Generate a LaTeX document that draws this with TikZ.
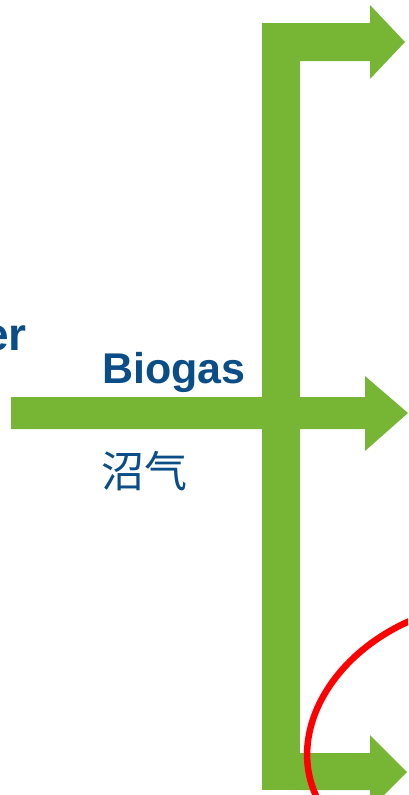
\documentclass[tikz,border=0pt]{standalone}
\usepackage{fontspec}
\setmainfont{Liberation Sans}
\newfontfamily\cjk{Noto Sans CJK SC}
\usepackage{tikz}
\usetikzlibrary{calc,positioning}

\definecolor{pipegreen}{RGB}{118,182,52}
\definecolor{labelblue}{RGB}{11,78,135}

\begin{document}
\begin{tikzpicture}
[x=1pt,y=-1pt]

    \tikzstyle{pipe}=[fill=pipegreen,draw=none]
    \tikzstyle{gaslabel}=[text=labelblue,inner sep=0pt,font=\bfseries\fontsize{43}{48}\selectfont]

    \useasboundingbox (0,0) rectangle (408,795);
    \clip (0,0) rectangle (408,795);

    % the main riser, shared by all three outlets
    \coordinate (risertop) at (262,23);
    \coordinate (riserbot) at (300,790);
    \fill[pipe] (risertop) rectangle (riserbot);

    % top outlet
    \fill[pipe] (300,23) -- (370,23) -- (370,5) -- (405,42)
        -- (370,79) -- (370,61) -- (300,61) -- cycle;

    % biogas inlet, running straight through the riser
    \fill[pipe] (11,397) -- (365,397) -- (365,376) -- (408,413)
        -- (365,451) -- (365,429) -- (11,429) -- cycle;

    % bottom outlet
    \fill[pipe] (300,753) -- (370,753) -- (370,735) -- (407,772)
        -- (370,809) -- (370,790) -- (300,790) -- cycle;

    % red marking stroke
    \draw[red,line width=6.5pt,line cap=round] (412,620)
        .. controls (330,655) and (285,735) .. (318,800);

    % labels (the first one runs in from the left edge)
    \node (er) [gaslabel,anchor=base east,font=\bfseries\fontsize{46}{52}\selectfont] at (27,350) {er};
    \node (biogas) [gaslabel,anchor=base west] at (102,383) {Biogas};
    \node (zhaoqi) [text=labelblue,inner sep=0pt,anchor=base west,font=\cjk\fontsize{43}{48}\selectfont] at (101,487) {沼气};

\end{tikzpicture}
\end{document}
